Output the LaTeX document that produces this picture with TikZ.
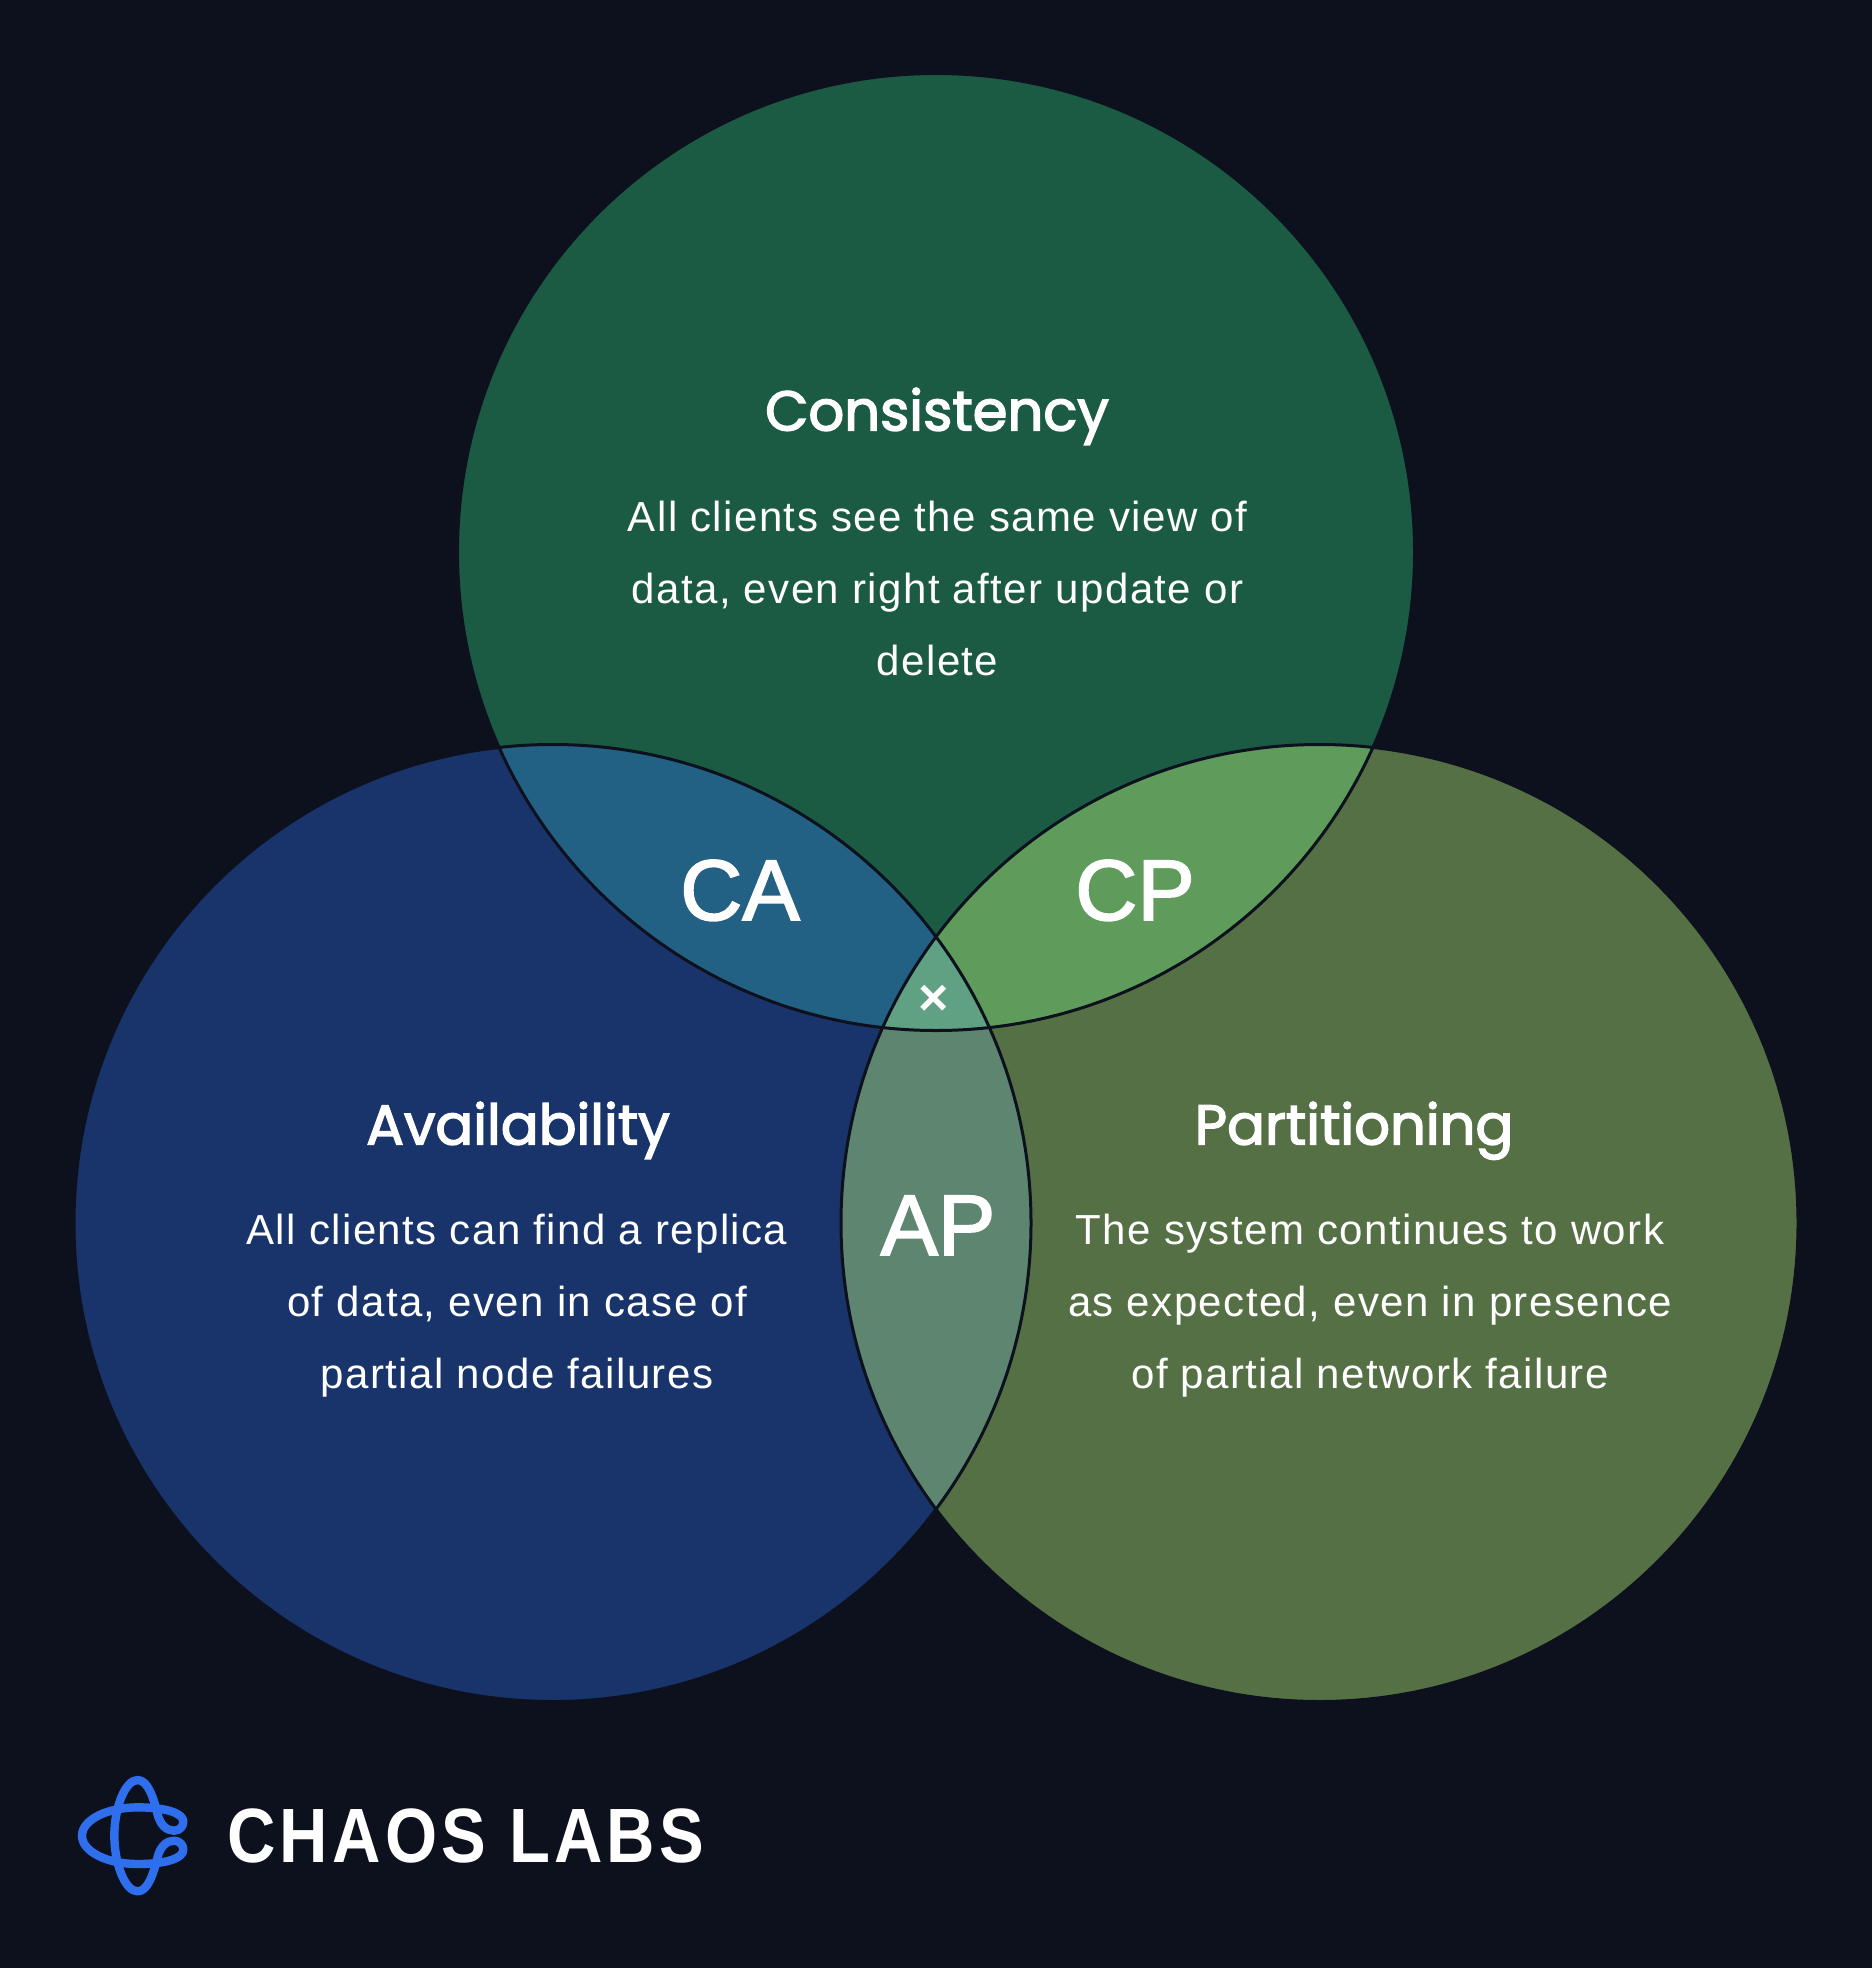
\documentclass[tikz,border=0pt]{standalone}
\usepackage{fontspec}
\setmainfont{Liberation Sans}
\newfontfamily\bodyfont[LetterSpace=3.4]{Liberation Sans}
\newfontfamily\titlefont[FakeBold=2.6]{Poppins}
\newfontfamily\pairfont[FakeBold=2]{Liberation Sans}
\newfontfamily\logofont[LetterSpace=5.5,FakeStretch=0.87]{Liberation Sans}
\definecolor{bgc}{HTML}{0C111D}
\definecolor{topc}{HTML}{1B5B43}
\definecolor{leftc}{HTML}{19336B}
\definecolor{rightc}{HTML}{557044}
\definecolor{cac}{HTML}{236184}
\definecolor{cpc}{HTML}{5F9C5C}
\definecolor{apc}{HTML}{5E8570}
\definecolor{midc}{HTML}{5FA182}
\definecolor{logoc}{HTML}{2F6FED}
\tikzset{
  titlelabel/.style={anchor=base,text=white,inner sep=0pt,font=\titlefont\fontsize{28}{32}\selectfont},
  bodylabel/.style={anchor=base,text=white,inner sep=0pt,align=center,font=\bodyfont\fontsize{21}{36}\selectfont},
  pairlabel/.style={anchor=base,text=white,inner sep=0pt,font=\pairfont\fontsize{43}{50}\selectfont},
}
\begin{document}
\begin{tikzpicture}[x=0.5pt,y=-0.5pt]
\useasboundingbox (0,0) rectangle (1872,1968);
\fill[bgc] (0,0) rectangle (1872,1968);
\def\rr{239.25pt}
\coordinate (T) at (936,552);
\coordinate (L) at (552.5,1223);
\coordinate (R) at (1319.5,1223);
\fill[topc] (T) circle[radius=\rr];
\fill[leftc] (L) circle[radius=\rr];
\fill[rightc] (R) circle[radius=\rr];
\begin{scope}\clip (T) circle[radius=\rr]; \fill[cac] (L) circle[radius=\rr]; \fill[cpc] (R) circle[radius=\rr];\end{scope}
\begin{scope}\clip (L) circle[radius=\rr]; \fill[apc] (R) circle[radius=\rr];
  \clip (R) circle[radius=\rr]; \fill[midc] (T) circle[radius=\rr];\end{scope}
\draw[bgc,line width=1.5pt] (T) circle[radius=\rr] (L) circle[radius=\rr] (R) circle[radius=\rr];

\node[titlelabel] (consT) at (937,430.5) {Consistency};
\node[bodylabel] (consB) at (937.5,675) {All clients see the same view of\\data, even right after update or\\delete};
\node[titlelabel] (availT) at (518,1144.5) {Availability};
\node[bodylabel] (availB) at (517,1388.5) {All clients can find a replica\\of data, even in case of\\partial node failures};
\node[titlelabel] (partT) at (1354,1144.5) {Partitioning};
\node[bodylabel] (partB) at (1370,1388.5) {The system continues to work\\as expected, even in presence\\of partial network failure};
\node[pairlabel] (ca) at (740,920) {CA};
\node[pairlabel] (cp) at (1135,920) {CP};
\node[pairlabel] (ap) at (938,1255) {AP};
\node[anchor=center,text=white,inner sep=0pt,font=\bfseries\fontsize{26}{26}\selectfont] (mid) at (933.5,1000.5) {×};

\begin{scope}[shift={(70,1770)},x=0.1667pt,y=-0.1667pt]
\draw[logoc,line width=4.2pt,line join=round]
 (203,30) .. controls (235,30) and (252,90) .. (262,130)
 .. controls (270,165) and (290,182) .. (312,182)
 .. controls (330,182) and (340,168) .. (340,155)
 .. controls (340,130) and (290,112) .. (203,112)
 .. controls (110,112) and (36,150) .. (36,197)
 .. controls (36,244) and (110,282) .. (203,282)
 .. controls (290,282) and (340,264) .. (340,239)
 .. controls (340,226) and (330,212) .. (312,212)
 .. controls (290,212) and (270,229) .. (262,264)
 .. controls (252,304) and (235,364) .. (203,364)
 .. controls (165,364) and (133,280) .. (133,197)
 .. controls (133,114) and (165,30) .. cycle;
\end{scope}
\node[anchor=base west,text=white,inner sep=0pt,font=\logofont\bfseries\fontsize{38.5}{44}\selectfont] (brand) at (227,1862) {CHAOS LABS};
\end{tikzpicture}
\end{document}
